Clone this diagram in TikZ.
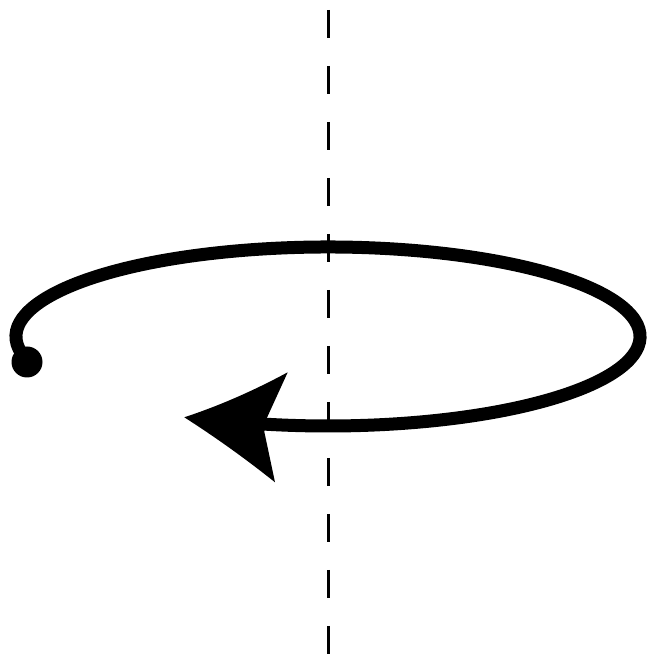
\documentclass[tikz,border=0pt]{standalone}
\usetikzlibrary{calc}
\begin{document}
\begin{tikzpicture}[x=1pt,y=1pt,
  axisline/.style={line width=2.6pt,dash pattern=on 28pt off 28pt},
  rotline/.style={line width=13pt,line cap=butt}]
\useasboundingbox (0,0) rectangle (647,655);
% axis
\coordinate (axtop) at (328.5,645);
\coordinate (axbot) at (328.5,0);
\draw[axisline] (axtop) -- (axbot);
% rotation arc
\coordinate (c) at (328,318.5);
\coordinate (start) at ($(c)+(196.5:312 and 89.5)$);
\draw[rotline] (start) arc[start angle=196.5,end angle=-101.8,x radius=312,y radius=89.5];
% start dot
\fill (27,293) circle[radius=15.5];
% arrow head
\coordinate (tip) at (184.3,237.7);
\coordinate (topc) at (287.7,282.7);
\coordinate (notcha) at (266.7,236.7);
\coordinate (notchb) at (264.3,223.3);
\coordinate (botc) at (275,172.7);
\fill (tip) .. controls (220,249.5) and (254,264.5) .. (topc)
  -- (notcha) -- (notchb) -- (botc)
  .. controls (244,197.5) and (213.5,219) .. (tip) -- cycle;
\end{tikzpicture}
\end{document}
